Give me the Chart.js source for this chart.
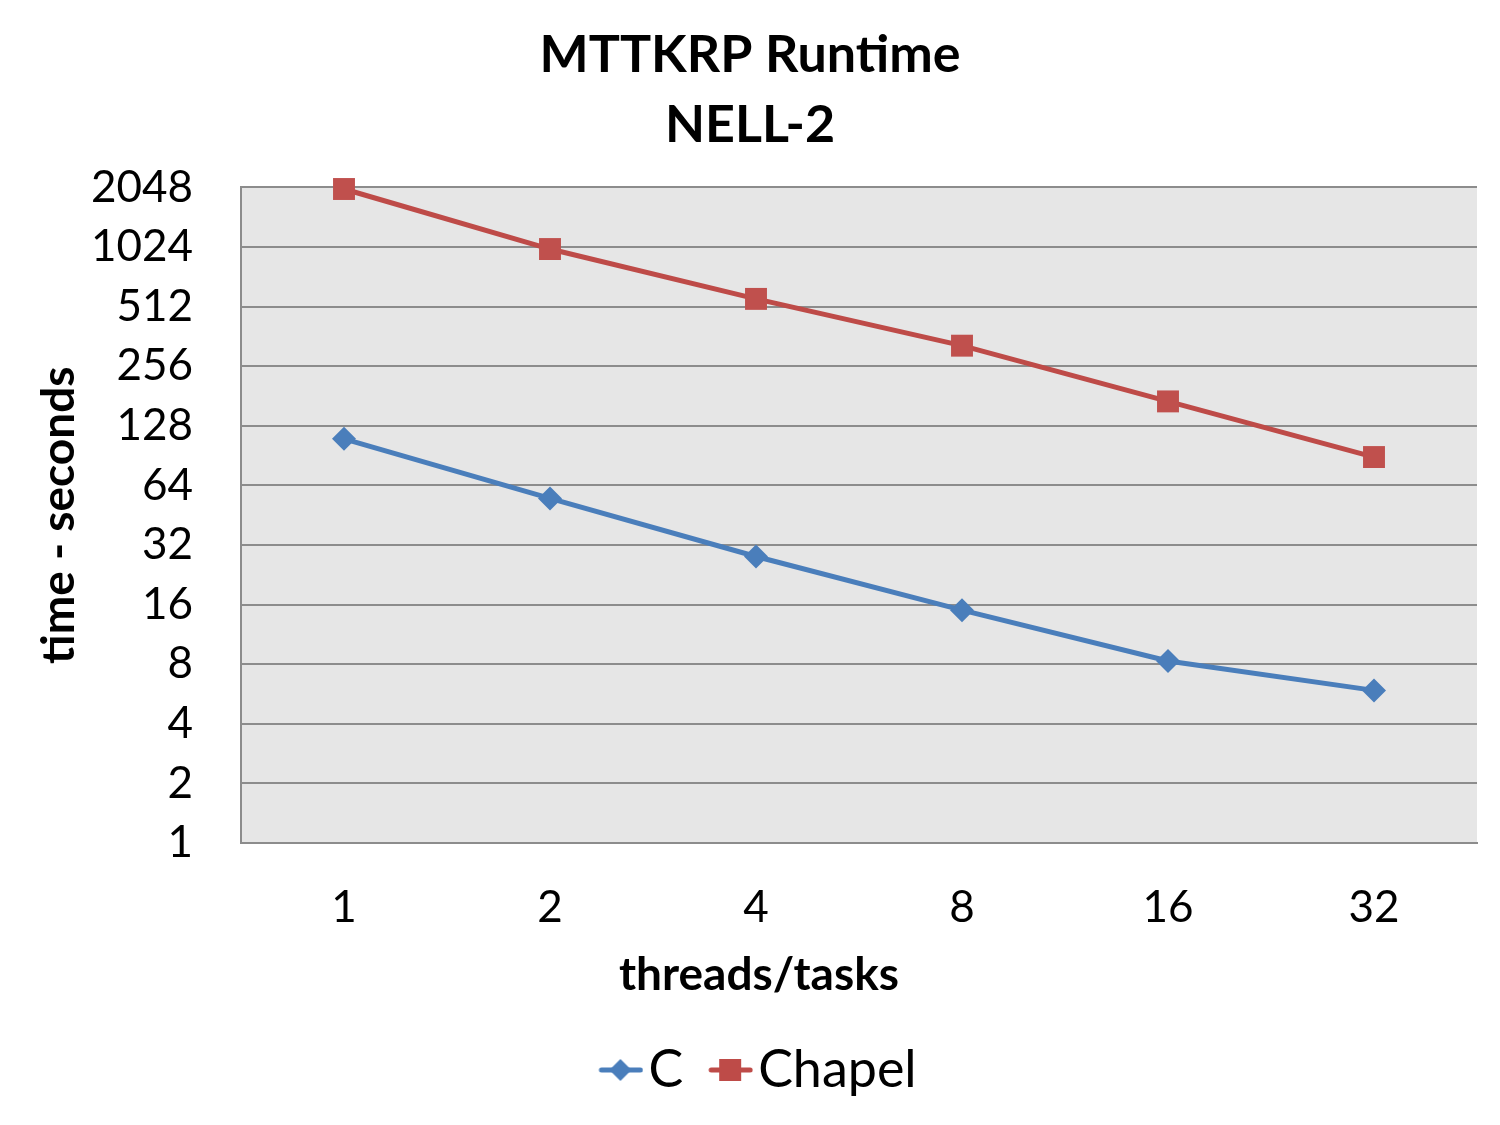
<!DOCTYPE html>
<html>
<head>
<meta charset="utf-8">
<script src="https://cdn.jsdelivr.net/npm/chart.js@4.4.1/dist/chart.umd.min.js"></script>
<style>
html, body { margin: 0; padding: 0; background: #fff; }
</style>
</head>
<body>
<canvas id="runtimeChart" width="1500" height="1125"></canvas>
<script>
// dados
const threads = ['1', '2', '4', '8', '16', '32'];
const cTimes = [110, 55, 28, 15, 8.3, 5.9];
const chapelTimes = [2010, 1000, 560, 325, 170, 89];
const yTicks = [1, 2, 4, 8, 16, 32, 64, 128, 256, 512, 1024, 2048];

const blue = '#4A7EBB';
const red = '#BE4B48';
const gridColor = '#8C8C8C';
const fontFamily = 'Lato, "Open Sans", sans-serif';

// marcador da legenda: linha + simbolo, encostado a direita da imagem
function legendMarker(color, shape) {
    const c = document.createElement('canvas');
    c.width = 81;
    c.height = 26;
    const ctx = c.getContext('2d');
    ctx.strokeStyle = color;
    ctx.lineWidth = 5;
    ctx.lineCap = 'round';
    ctx.beginPath();
    ctx.moveTo(39, 13);
    ctx.lineTo(78, 13);
    ctx.stroke();
    ctx.fillStyle = color;
    const cx = 58;
    if (shape === 'diamond') {
        ctx.beginPath();
        ctx.moveTo(cx, 2);
        ctx.lineTo(cx + 11, 13);
        ctx.lineTo(cx, 24);
        ctx.lineTo(cx - 11, 13);
        ctx.closePath();
        ctx.fill();
    } else {
        ctx.fillRect(cx - 11, 2, 22, 22);
    }
    return c;
}

const plotBackground = {
    id: 'plotBackground',
    beforeDraw(chart) {
        const { ctx, chartArea } = chart;
        ctx.save();
        ctx.fillStyle = '#E6E6E6';
        ctx.fillRect(chartArea.left, chartArea.top, chartArea.right - chartArea.left, chartArea.bottom - chartArea.top);
        ctx.restore();
    }
};

// titulo do eixo x (centrado como no original, nao no plot)
const xAxisTitle = {
    id: 'xAxisTitle',
    afterDraw(chart) {
        const { ctx } = chart;
        ctx.save();
        ctx.fillStyle = '#000';
        ctx.font = 'bold 46px ' + fontFamily;
        ctx.textAlign = 'center';
        ctx.textBaseline = 'alphabetic';
        ctx.fillText('threads/tasks', 759, 990);
        ctx.restore();
    }
};

const ctx = document.getElementById('runtimeChart').getContext('2d');
const runtimeChart = new Chart(ctx, {
    type: 'line',
    data: {
        labels: threads,
        datasets: [{
            label: 'C',
            data: cTimes,
            borderColor: blue,
            backgroundColor: blue,
            borderWidth: 5,
            pointStyle: 'rectRot',
            pointRadius: 12,
            pointBorderWidth: 0,
            pointBackgroundColor: blue,
            tension: 0,
            clip: false
        }, {
            label: 'Chapel',
            data: chapelTimes,
            borderColor: red,
            backgroundColor: red,
            borderWidth: 5,
            pointStyle: 'rect',
            pointRadius: 15.5,
            pointBorderWidth: 0,
            pointBackgroundColor: '#C0504D',
            tension: 0,
            clip: false
        }]
    },
    options: {
        responsive: false,
        animation: false,
        devicePixelRatio: 1,
        layout: {
            padding: { left: 23, right: 23, top: 0, bottom: 19 }
        },
        plugins: {
            title: {
                display: true,
                text: ['MTTKRP Runtime', 'NELL-2'],
                color: '#000',
                font: { family: fontFamily, size: 52, weight: 'bold', lineHeight: 1.35 },
                padding: { top: 20, bottom: 27 }
            },
            legend: {
                position: 'bottom',
                labels: {
                    color: '#000',
                    font: { family: fontFamily, size: 52 },
                    usePointStyle: true,
                    pointStyleWidth: 39,
                    boxHeight: 24,
                    padding: 10,
                    generateLabels(chart) {
                        return chart.data.datasets.map((ds, i) => ({
                            text: ds.label,
                            pointStyle: legendMarker(ds.borderColor, i === 0 ? 'diamond' : 'square'),
                            fillStyle: ds.borderColor,
                            strokeStyle: ds.borderColor,
                            lineWidth: 0,
                            hidden: false,
                            datasetIndex: i,
                            fontColor: '#000'
                        }));
                    }
                }
            },
            tooltip: { enabled: false }
        },
        scales: {
            x: {
                type: 'category',
                offset: true,
                grid: { display: false, drawTicks: false },
                border: { display: true, color: gridColor, width: 2 },
                ticks: {
                    color: '#000',
                    font: { family: fontFamily, size: 44 },
                    padding: 38
                },
                afterFit(scale) {
                    scale.height = 191;
                }
            },
            y: {
                type: 'logarithmic',
                min: 1,
                max: 2048,
                grid: { color: gridColor, lineWidth: 2, drawTicks: false },
                border: { display: true, color: gridColor, width: 2 },
                ticks: {
                    color: '#000',
                    font: { family: fontFamily, size: 44 },
                    padding: 48,
                    callback: value => String(value)
                },
                afterBuildTicks(scale) {
                    scale.ticks = yTicks.map(v => ({ value: v }));
                },
                title: {
                    display: true,
                    text: 'time - seconds',
                    color: '#000',
                    font: { family: fontFamily, size: 46, weight: 'bold' },
                    padding: { top: 9, bottom: 0 }
                },
                afterFit(scale) {
                    scale.width = 218;
                }
            }
        }
    },
    plugins: [plotBackground, xAxisTitle]
});
</script>
</body>
</html>
